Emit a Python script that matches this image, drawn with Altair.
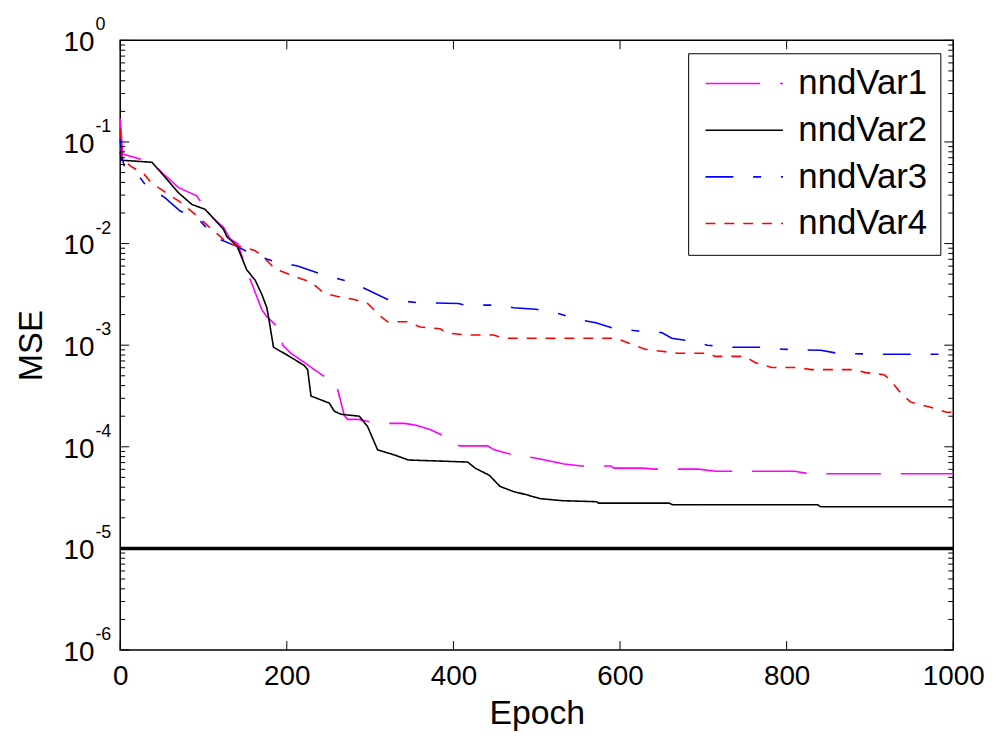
import altair as alt
import pandas as pd

FONT = "Liberation Sans"

# ---------------- data ----------------
series_names = ["nndVar1", "nndVar2", "nndVar3", "nndVar4"]
series_colors = ["#ff00ff", "#000000", "#0000ff", "#ff0000"]

epoch_var1 = [0, 3, 38, 50, 70, 92, 106, 124, 132, 141, 154, 170, 176, 193, 195, 205, 221, 233,
              251, 259, 269, 273, 286, 309, 341, 354, 372, 392, 398, 408, 441, 449, 472, 498,
              533, 554, 589, 593, 628, 641, 694, 715, 810, 826, 1000]
mse_var1 = [0.17, 0.0759, 0.0631, 0.0501, 0.0355, 0.0295, 0.0195, 0.0145, 0.0111, 0.0100,
            0.0049, 0.00224, 0.00191, 0.00141, 0.00100, 0.000832, 0.000676, 0.000575,
            0.000457, 0.000427, 0.000204, 0.000186, 0.000186, 0.000170, 0.000170, 0.000164,
            0.000148, 0.000124, 0.000107, 0.000102, 0.000102, 9.33e-5, 8.32e-5, 7.76e-5,
            6.76e-5, 6.46e-5, 6.46e-5, 6.17e-5, 6.17e-5, 6.03e-5, 6.03e-5, 5.75e-5, 5.75e-5,
            5.43e-5, 5.43e-5]

epoch_var2 = [0, 2, 38, 50, 70, 86, 102, 114, 124, 128, 140, 146, 152, 162, 170, 176, 178, 184,
              201, 221, 225, 229, 251, 257, 265, 287, 297, 309, 329, 346, 383, 417, 426, 443,
              456, 472, 489, 504, 530, 572, 574, 659, 663, 837, 841, 1000]
mse_var2 = [0.0794, 0.0661, 0.0631, 0.0490, 0.0316, 0.0243, 0.0217, 0.0170, 0.0138, 0.0117,
            0.00955, 0.00724, 0.00550, 0.00437, 0.00316, 0.00234, 0.00191, 0.000955,
            0.000794, 0.000631, 0.000575, 0.000316, 0.000269, 0.000224, 0.000209, 0.000200,
            0.000158, 9.33e-5, 8.32e-5, 7.41e-5, 7.24e-5, 7.08e-5, 6.17e-5, 5.25e-5,
            4.07e-5, 3.63e-5, 3.35e-5, 3.09e-5, 2.95e-5, 2.88e-5, 2.79e-5, 2.79e-5, 2.69e-5,
            2.69e-5, 2.57e-5, 2.57e-5]

epoch_var3 = [0, 2, 5, 19, 31, 54, 72, 94, 114, 138, 158, 186, 213, 241, 277, 293, 321, 356,
              406, 414, 453, 472, 499, 527, 551, 571, 591, 621, 650, 662, 678, 705, 734, 768,
              795, 841, 861, 919, 1000]
mse_var3 = [0.107, 0.0708, 0.0575, 0.0501, 0.0372, 0.0282, 0.0209, 0.0174, 0.0115, 0.00955,
            0.00794, 0.00661, 0.00603, 0.00501, 0.00417, 0.00363, 0.00282, 0.00263, 0.00257,
            0.00248, 0.00248, 0.00234, 0.00226, 0.00204, 0.00178, 0.00166, 0.00148, 0.00138,
            0.00133, 0.00117, 0.00112, 0.00100, 0.000955, 0.000955, 0.000912, 0.000891,
            0.000832, 0.000813, 0.000813]

epoch_var4 = [0, 2, 5, 13, 29, 37, 58, 70, 78, 94, 110, 130, 150, 162, 174, 186, 205, 229, 245,
              261, 281, 297, 313, 321, 344, 360, 384, 392, 416, 448, 460, 595, 610, 630, 650,
              670, 706, 714, 750, 762, 782, 813, 829, 881, 895, 917, 925, 937, 949, 973, 992,
              1000]
mse_var4 = [0.135, 0.0708, 0.0646, 0.0575, 0.0479, 0.0398, 0.0305, 0.0263, 0.0234, 0.0182,
            0.0138, 0.0100, 0.00912, 0.00851, 0.00708, 0.00562, 0.00490, 0.00417, 0.00324,
            0.00302, 0.00282, 0.00257, 0.00191, 0.00170, 0.00170, 0.00151, 0.00145, 0.00132,
            0.00126, 0.00126, 0.00117, 0.00117, 0.00105, 0.000912, 0.000871, 0.000832,
            0.000832, 0.000776, 0.000776, 0.000676, 0.000603, 0.000603, 0.000575, 0.000575,
            0.000537, 0.000513, 0.000447, 0.000339, 0.000275, 0.000245, 0.000219, 0.000219]

goal_value = [1e-5]

x_tick_values = [0, 200, 400, 600, 800, 1000]
y_major_values = [1, 0.1, 0.01, 0.001, 0.0001, 0.00001, 0.000001]
y_exponent_labels = ["0", "-1", "-2", "-3", "-4", "-5", "-6"]
y_minor_values = [k * m for m in [1e-6, 1e-5, 1e-4, 1e-3, 1e-2, 1e-1] for k in range(2, 10)]

# ---------------- tables ----------------
rows = []
for name, ep, ms in zip(series_names,
                        [epoch_var1, epoch_var2, epoch_var3, epoch_var4],
                        [mse_var1, mse_var2, mse_var3, mse_var4]):
    for e, m in zip(ep, ms):
        rows.append({"series": name, "epoch": e, "mse": m})
df = pd.DataFrame(rows)

goal_df = pd.DataFrame({"goal": goal_value})
major_df = pd.DataFrame({"v": y_major_values, "exp": y_exponent_labels})
minor_df = pd.DataFrame({"v": y_minor_values})
xt_df = pd.DataFrame({"e": x_tick_values})

W, H = 839, 614

xscale = alt.Scale(domain=[0, 1000], nice=False, zero=False)
yscale = alt.Scale(type="log", domain=[1e-6, 1], nice=False)

xaxis = alt.Axis(values=x_tick_values, format="d", labelFont=FONT, labelFontSize=28,
                 labelColor="black", labelFlush=False, labelPadding=13,
                 ticks=False, tickSize=0, domain=False, grid=False,
                 title="Epoch", titleFont=FONT, titleFontSize=34,
                 titleFontWeight="normal", titleColor="black", titlePadding=6)
yaxis = alt.Axis(labels=False, ticks=False, tickSize=0, domain=False, grid=False,
                 title="MSE", titleFont=FONT, titleFontSize=33,
                 titleFontWeight="normal", titleColor="black", titlePadding=72)

legend = alt.Legend(
    title=None, orient="none", legendX=572, legendY=13, direction="vertical",
    labelFont=FONT, labelFontSize=35, labelColor="black", labelLimit=400,
    symbolType="M-1,0H5", symbolSize=676, symbolStrokeWidth=1.6,
    labelOffset=63, padding=13, rowPadding=11,
    strokeColor="black", fillColor="white",
)

lines = alt.Chart(df).mark_line(strokeWidth=1.6).encode(
    x=alt.X("epoch:Q", scale=xscale, axis=xaxis),
    y=alt.Y("mse:Q", scale=yscale, axis=yaxis),
    color=alt.Color("series:N", scale=alt.Scale(domain=series_names, range=series_colors),
                    legend=legend),
    strokeDash=alt.StrokeDash("series:N",
                              scale=alt.Scale(domain=series_names,
                                              range=[[55, 20], [1, 0], [28, 20, 8, 20], [10, 9]]),
                              legend=legend),
)

goal = alt.Chart(goal_df).mark_rule(color="black", strokeWidth=3.5).encode(
    y=alt.Y("goal:Q", scale=yscale, axis=yaxis)
)

def ytick(data, x0, x1):
    return alt.Chart(data).mark_rule(color="black", strokeWidth=1).encode(
        y=alt.Y("v:Q", scale=yscale, axis=yaxis), x=alt.value(x0), x2=alt.value(x1))

def xtick(y0, y1):
    return alt.Chart(xt_df).mark_rule(color="black", strokeWidth=1).encode(
        x=alt.X("e:Q", scale=xscale, axis=xaxis), y=alt.value(y0), y2=alt.value(y1))

ticks = [
    ytick(major_df, 0, 9), ytick(minor_df, 0, 5),
    ytick(major_df, W, W - 9), ytick(minor_df, W, W - 5),
    xtick(H, H - 9), xtick(0, 9),
]

base_lab = alt.Chart(major_df).mark_text(
    text="10", align="right", baseline="middle", font=FONT, fontSize=28, color="black", dy=3
).encode(y=alt.Y("v:Q", scale=yscale, axis=yaxis), x=alt.value(-26))

exp_lab = alt.Chart(major_df).mark_text(
    align="left", baseline="middle", font=FONT, fontSize=18, color="black", dy=-15
).encode(y=alt.Y("v:Q", scale=yscale, axis=yaxis), x=alt.value(-25), text="exp:N")

chart = alt.layer(lines, goal, *ticks, base_lab, exp_lab).properties(
    width=W, height=H,
    padding={"left": 113, "top": 30, "right": 36, "bottom": 82},
    autosize=alt.AutoSizeParams(type="none"),
    background="white",
).configure(font=FONT).configure_view(stroke="black", strokeWidth=1.5)

chart.save("out.html", embed_options={"renderer": "svg", "actions": False})
